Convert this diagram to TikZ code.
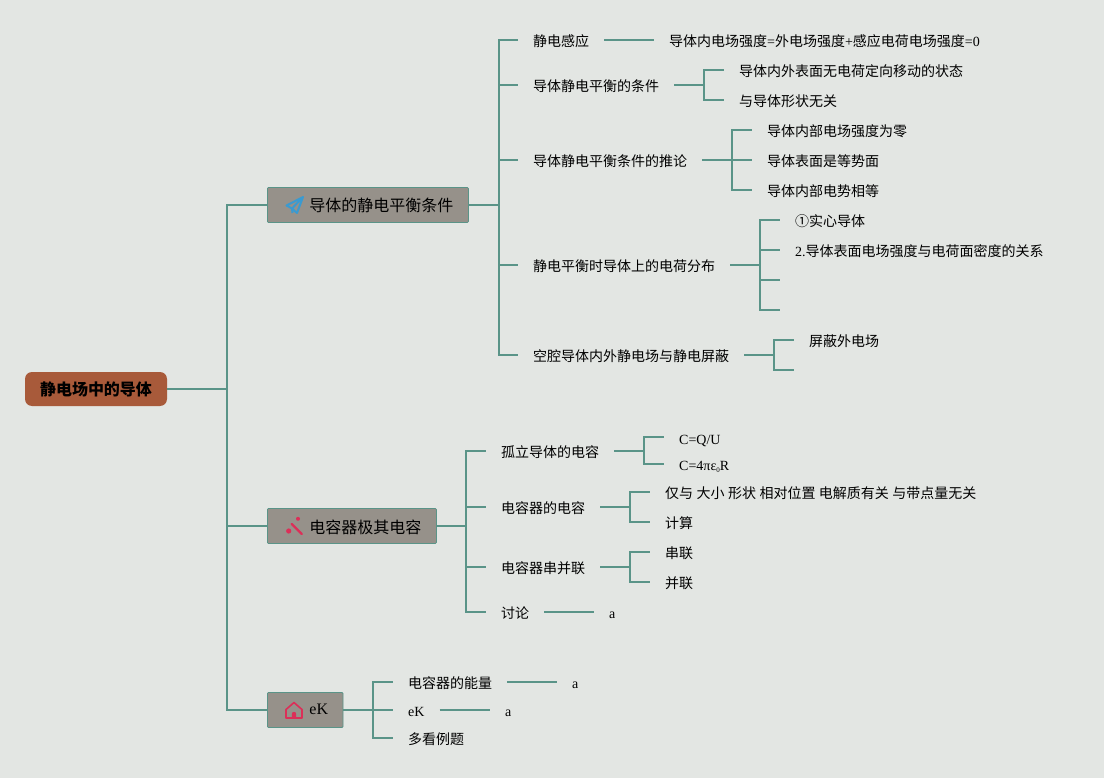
\documentclass[tikz,border=0pt]{standalone}
\usepackage{fontspec}
\setmainfont{Noto Sans CJK SC}
\newfontfamily\ltnfont{Liberation Serif}
\newcommand{\ltn}[1]{{\ltnfont #1}}
\usetikzlibrary{positioning,calc}
\definecolor{paper}{HTML}{E3E6E3}
\definecolor{teal}{HTML}{5A9488}
\definecolor{rust}{HTML}{A85A3A}
\definecolor{stone}{HTML}{96918A}
\definecolor{skyicon}{HTML}{3B9AD0}
\definecolor{redicon}{HTML}{DC2F58}
\tikzset{
  link/.style={draw=teal, line width=1.9pt},
  rootbox/.style={fill=rust, rounded corners=7pt, minimum width=142pt, minimum height=34pt, inner sep=0pt, font=\fontsize{16}{18}\selectfont\bfseries},
  mainbox/.style={fill=stone, draw=teal, line width=0.8pt, rounded corners=1pt, minimum height=35pt, inner xsep=15pt, inner ysep=0pt, text height=15pt, text depth=1pt, font=\fontsize{16}{18}\selectfont},
  leaf/.style={anchor=west, inner xsep=15pt, inner ysep=0pt, text height=14pt, text depth=0.4pt, font=\fontsize{14}{16}\selectfont}
}
\begin{document}
\begin{tikzpicture}[x=1pt,y=-1pt]
  \path[use as bounding box, fill=paper] (0,0) rectangle (1104,778);
  % centre and the three main topics
  \node[rootbox] (root) at (96,389) {静电场中的导体};
  \node[mainbox, anchor=west] (balance) at (267,205) {\hspace{27pt}导体的静电平衡条件};
  \node[mainbox, anchor=west] (capacitor) at (267,526) {\hspace{27pt}电容器极其电容};
  \node[mainbox, anchor=west] (energy) at (267,710) {\hspace{27pt}\raisebox{3pt}{\ltn{eK}}};
  % second level
  \foreach \x/\y/\name/\txt in {518/40/induct/静电感应, 518/85/cond/导体静电平衡的条件, 518/160/infer/导体静电平衡条件的推论, 518/265/dist/静电平衡时导体上的电荷分布, 518/355/cavity/空腔导体内外静电场与静电屏蔽,
      486/451/single/孤立导体的电容, 486/507/capa/电容器的电容, 486/567/series/电容器串并联, 486/612/talk/讨论,
      393/682/store/电容器的能量, 393/710/ek/\ltn{eK}, 393/738/examples/多看例题}{
    \node[leaf] (\name) at (\x,\y) {\txt};}
  % third level
  \foreach \x/\y/\name/\txt in {654/40/inductA/{导体内电场强度\ltn{=}外电场强度\ltn{+}感应电荷电场强度\ltn{=0}},
      724/70/condA/导体内外表面无电荷定向移动的状态, 724/100/condB/与导体形状无关,
      752/130/inferA/导体内部电场强度为零, 752/160/inferB/导体表面是等势面, 752/190/inferC/导体内部电势相等,
      780/220/distA/①实心导体, 780/250/distB/{\ltn{2.}导体表面电场强度与电荷面密度的关系},
      794/340/cavityA/屏蔽外电场,
      664/437/singleA/{\raisebox{-1pt}{\ltn{C=Q/U}}}, 664/464/singleB/{\ltn{C=4πε\raisebox{-2pt}{\fontsize{7}{7}\selectfont 0}R}},
      650/492/capaA/{\spaceskip=3.45pt 仅与 大小 形状 相对位置 电解质有关 与带点量无关}, 650/522/capaB/计算,
      650/552/seriesA/串联, 650/582/seriesB/并联,
      594/612/talkA/\ltn{a}, 557/682/storeA/\ltn{a}, 490/710/ekA/\ltn{a}}{
    \node[leaf] (\name) at (\x,\y) {\txt};}
  % branches with nothing written at the end
  \coordinate (distC) at (780,280);
  \coordinate (distD) at (780,310);
  \coordinate (cavityB) at (794,370);
  % connectors
  \foreach \kid in {balance,capacitor,energy}{\draw[link] (root.east) -- (227,389) |- (\kid.west);}
  \foreach \kid in {induct,cond,infer,dist,cavity}{\draw[link] (balance.east) -- +(30,0) |- (\kid.west);}
  \foreach \kid in {single,capa,series,talk}{\draw[link] (capacitor.east) -- +(29,0) |- (\kid.west);}
  \foreach \kid in {store,ek,examples}{\draw[link] (energy.east) -- (373,710) |- (\kid.west);}
  \foreach \mid/\kid in {induct/inductA,talk/talkA,store/storeA,ek/ekA}{\draw[link] (\mid.east) -- (\kid.west);}
  \foreach \mid/\kid in {cond/condA,cond/condB,infer/inferA,infer/inferB,infer/inferC,dist/distA,dist/distB,dist/distC,dist/distD,cavity/cavityA,cavity/cavityB,single/singleA,single/singleB,capa/capaA,capa/capaB,series/seriesA,series/seriesB}{
    \draw[link] (\mid.east) -- +(30,0) |- (\kid);}
  % icons
  \draw[skyicon, line width=2pt, line join=round] (303,197) -- (286.5,205.5) -- (292,208.5) -- (297,213) -- cycle (303,197) -- (292,208.5) -- (292.5,213);
  \draw[redicon, line width=2.4pt, line cap=round] (291.7,524) -- (301.7,534);
  \fill[redicon] (288.7,531) circle[radius=2.6pt] (298,518.8) circle[radius=2pt];
  \draw[redicon, line width=1.6pt, line join=round] (286,709.5) -- (294,702.5) -- (302,709.5) -- (302,718) -- (286,718) -- cycle;
  \fill[redicon] (291.8,718) -- (291.8,714) arc[start angle=180, end angle=0, radius=2.2pt] -- (296.2,718) -- cycle;
\end{tikzpicture}
\end{document}
